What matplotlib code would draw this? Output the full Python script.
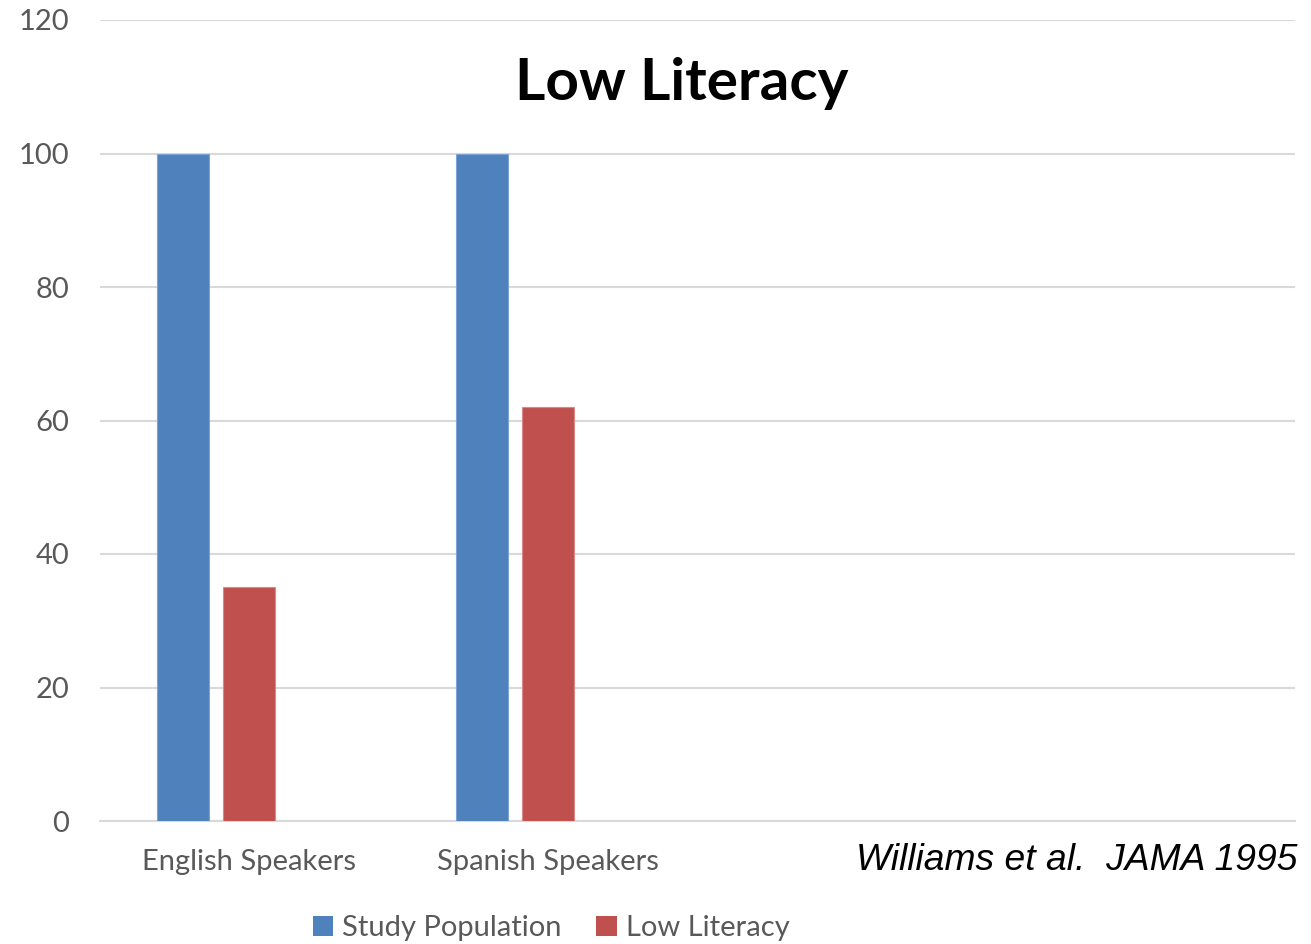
import matplotlib
matplotlib.use("Agg")
import numpy as np
import matplotlib.pyplot as plt
from matplotlib.patches import Patch

categories = ["English Speakers", "Spanish Speakers"]
study_population = [100, 100]
low_literacy = [35, 62]
y_ticks = [0, 20, 40, 60, 80, 100, 120]

BLUE = "#4F81BD"
RED = "#C0504D"
GRID = "#D9D9D9"
TEXT = "#595959"

plt.rcParams["font.family"] = ["Lato", "DejaVu Sans"]

W, H = 1311, 944
fig = plt.figure(figsize=(W / 100, H / 100), dpi=100)
ax = fig.add_axes([100 / W, (H - 821) / H, (1295 - 100) / W, (821 - 20) / H])

# four category slots, only the first two hold data
x = np.arange(len(categories))
bar_w = 0.174
ax.bar(x - 0.221, study_population, bar_w, color=BLUE, edgecolor="#7FA3D4", linewidth=0.8, zorder=3)
ax.bar(x, low_literacy, bar_w, color=RED, edgecolor="#D88A88", linewidth=0.8, zorder=3)

ax.set_xlim(-0.5, 3.5)
ax.set_ylim(0, 120)
ax.set_yticks(y_ticks)
ax.set_xticks(x)
ax.set_xticklabels(categories)
ax.grid(axis="y", color=GRID, linewidth=1.5, zorder=0)
ax.tick_params(axis="both", length=0, labelcolor=TEXT, labelsize=21)
ax.tick_params(axis="y", pad=22)
ax.tick_params(axis="x", pad=20)
for side in ["left", "right", "top"]:
    ax.spines[side].set_visible(False)
ax.spines["bottom"].set_color(GRID)
ax.spines["bottom"].set_linewidth(1.5)

fig.text(682 / W, (H - 84) / H, "Low Literacy", ha="center", va="center",
         fontsize=42, fontweight="bold", color="black")

fig.text(1297 / W, (H - 860) / H, "Williams et al.  JAMA 1995", ha="right", va="center",
         fontsize=26.8, style="italic", family="Liberation Sans", color="black")

handles = [Patch(facecolor=BLUE), Patch(facecolor=RED)]
fig.legend(handles, ["Study Population", "Low Literacy"], loc="center",
           bbox_to_anchor=(551 / W, (H - 928) / H), ncol=2, frameon=False,
           fontsize=21, labelcolor=TEXT, handlelength=0.7, handleheight=0.7,
           handletextpad=0.3, columnspacing=1.2)

fig.savefig("out.png", dpi=100)
